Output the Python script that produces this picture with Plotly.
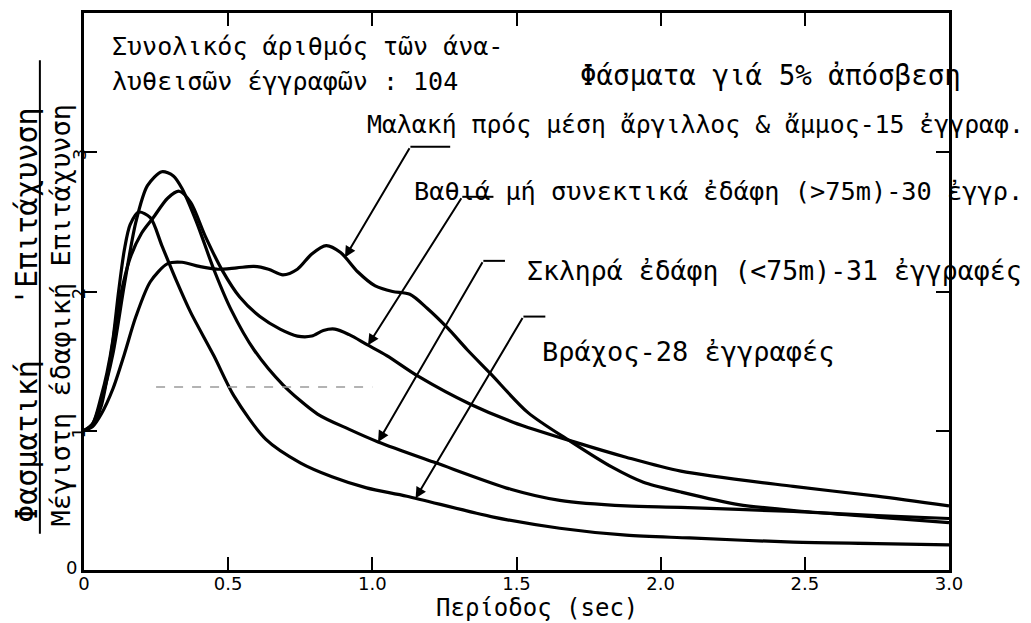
import numpy as np
import plotly.graph_objects as go

# Normalised response spectra (5% damping): spectral acceleration / peak ground acceleration
t_soft = [0, 0.03, 0.06, 0.10, 0.14, 0.18, 0.23, 0.29, 0.34, 0.40, 0.46, 0.53, 0.59, 0.64,
          0.69, 0.74, 0.79, 0.84, 0.89, 0.95, 1.01, 1.07, 1.13, 1.19, 1.26, 1.33, 1.41, 1.54,
          1.69, 1.83, 1.94, 2.07, 2.27, 2.50, 2.75, 3.00]
sa_soft = [1.00, 1.03, 1.12, 1.30, 1.55, 1.82, 2.07, 2.20, 2.21, 2.18, 2.16, 2.17, 2.18, 2.16,
           2.12, 2.16, 2.27, 2.33, 2.28, 2.14, 2.04, 2.00, 1.98, 1.88, 1.74, 1.58, 1.41, 1.13,
           0.92, 0.74, 0.63, 0.56, 0.47, 0.42, 0.38, 0.34]

t_deep = [0, 0.03, 0.06, 0.09, 0.12, 0.16, 0.20, 0.24, 0.29, 0.33, 0.37, 0.42, 0.48, 0.54,
          0.61, 0.68, 0.74, 0.79, 0.83, 0.87, 0.92, 0.98, 1.05, 1.16, 1.34, 1.49, 1.70, 1.88,
          2.07, 2.46, 2.75, 3.00]
sa_deep = [1.00, 1.04, 1.18, 1.50, 1.90, 2.24, 2.42, 2.53, 2.67, 2.72, 2.64, 2.40, 2.15, 1.96,
           1.82, 1.73, 1.68, 1.68, 1.72, 1.73, 1.69, 1.62, 1.54, 1.39, 1.19, 1.06, 0.92, 0.81,
           0.71, 0.60, 0.53, 0.46]

t_stiff = [0, 0.03, 0.06, 0.10, 0.14, 0.18, 0.22, 0.27, 0.31, 0.34, 0.39, 0.45, 0.51, 0.59,
           0.69, 0.81, 0.92, 1.02, 1.22, 1.48, 1.65, 1.88, 2.07, 2.46, 2.75, 3.00]
sa_stiff = [1.00, 1.05, 1.22, 1.55, 2.05, 2.50, 2.76, 2.86, 2.83, 2.74, 2.50, 2.16, 1.87, 1.58,
            1.33, 1.12, 1.01, 0.92, 0.77, 0.58, 0.50, 0.46, 0.45, 0.42, 0.39, 0.37]

t_rock = [0, 0.03, 0.06, 0.08, 0.10, 0.12, 0.14, 0.16, 0.19, 0.23, 0.27, 0.32, 0.37, 0.45,
          0.52, 0.63, 0.75, 0.86, 0.98, 1.12, 1.42, 1.65, 1.88, 2.10, 2.46, 2.75, 3.00]
sa_rock = [1.00, 1.05, 1.25, 1.42, 1.65, 2.00, 2.30, 2.48, 2.57, 2.53, 2.33, 2.08, 1.85, 1.54,
           1.25, 0.94, 0.77, 0.67, 0.59, 0.53, 0.38, 0.30, 0.25, 0.23, 0.20, 0.19, 0.18]

x_tickvals = [0, 0.5, 1.0, 1.5, 2.0, 2.5, 3.0]
x_ticktext = ["0", "0.5", "1.0", "1.5", "2.0", "2.5", "3.0"]
y_tickvals = [0, 1, 2, 3]
y_ticktext = ["0", "1", "2", "3"]

label_soft = "Μαλακή πρός μέση ἄργιλλος & ἄμμος-15 ἐγγραφ."
label_deep = "Βαθιά μή συνεκτικά ἐδάφη (>75m)-30 ἐγγρ."
label_stiff = "Σκληρά ἐδάφη (<75m)-31 ἐγγραφές"
label_rock = "Βράχος-28 ἐγγραφές"
note_line1 = "Συνολικός άριθμός τῶν άνα-"
note_line2 = "λυθεισῶν έγγραφῶν : 104"
heading = "Φάσματα γιά 5% ἀπόσβεση"
x_title = "Περίοδος (sec)"
y_title_num = "Φασματική   'Επιτάχυνση"
y_title_den = "Μέγιστη έδαφική Επιτάχυνση"

MONO = "DejaVu Sans Mono"
TICK_FONT = dict(family="DejaVu Sans", size=18, color="black")
LINE_W = 3.2

fig = go.Figure()
for t, sa in [(t_soft, sa_soft), (t_deep, sa_deep), (t_stiff, sa_stiff), (t_rock, sa_rock)]:
    fig.add_trace(go.Scatter(x=t, y=sa, mode="lines",
                             line=dict(color="black", width=LINE_W, shape="spline", smoothing=0.8),
                             showlegend=False, hoverinfo="skip"))

annotations = []
shapes = []

# Site-class labels with leader lines:
# (text, font size, text x, text y, corner, stub end x, tip period, series)
leaders = [
    (label_soft, 24.8, 0.975, 3.20, (1.132, 3.04), 1.27, 0.905, t_soft, sa_soft),
    (label_deep, 25.3, 1.138, 2.72, (1.312, 2.68), 1.42, 0.985, t_deep, sa_deep),
    (label_stiff, 26.5, 1.530, 2.15, (1.385, 2.22), 1.46, 1.020, t_stiff, sa_stiff),
    (label_rock, 27, 1.582, 1.57, (1.524, 1.82), 1.60, 1.150, t_rock, sa_rock),
]
for text, fs, tx, ty, (cx, cy), sx, tip_t, t, sa in leaders:
    tip_y = float(np.interp(tip_t, t, sa))
    annotations.append(dict(x=tx, y=ty, xref="x", yref="y", text=text, showarrow=False,
                            xanchor="left", yanchor="middle",
                            font=dict(family=MONO, size=fs, color="black")))
    annotations.append(dict(x=tip_t, y=tip_y, xref="x", yref="y", ax=cx, ay=cy,
                            axref="x", ayref="y", text="", showarrow=True,
                            arrowhead=2, arrowsize=1.1, arrowwidth=2, arrowcolor="black"))
    shapes.append(dict(type="line", xref="x", yref="y", x0=cx, y0=cy, x1=sx, y1=cy,
                       line=dict(color="black", width=2)))

for text, fs, tx, ty in [(note_line1, 25, 0.09, 3.76), (note_line2, 25, 0.09, 3.505),
                         (heading, 27.5, 1.713, 3.555)]:
    annotations.append(dict(x=tx, y=ty, xref="x", yref="y", text=text, showarrow=False,
                            xanchor="left", yanchor="middle",
                            font=dict(family=MONO, size=fs, color="black")))

# y tick labels: written sideways next to the axis, the zero upright at the corner
for val, txt in zip(y_tickvals, y_ticktext):
    if val == 0:
        annotations.append(dict(x=-0.015, y=val, xref="paper", yref="y", text=txt,
                                showarrow=False, xanchor="center", yanchor="middle", yshift=3,
                                font=TICK_FONT))
    else:
        annotations.append(dict(x=-0.006, y=val, xref="paper", yref="y", text=txt,
                                showarrow=False, textangle=-90, xanchor="center",
                                yanchor="middle", yshift=-2, font=TICK_FONT))

# Axis titles
annotations.append(dict(x=0.524, y=-0.069, xref="paper", yref="paper", text=x_title,
                        showarrow=False, xanchor="center", yanchor="middle",
                        font=dict(family=MONO, size=24, color="black")))
annotations.append(dict(x=-0.066, y=0.458, xref="paper", yref="paper", text=y_title_num,
                        showarrow=False, textangle=-90, xanchor="center", yanchor="middle",
                        font=dict(family=MONO, size=30, color="black")))
annotations.append(dict(x=-0.027, y=0.458, xref="paper", yref="paper", text=y_title_den,
                        showarrow=False, textangle=-90, xanchor="center", yanchor="middle",
                        font=dict(family=MONO, size=27, color="black")))
# fraction bar between numerator and denominator
shapes.append(dict(type="line", xref="paper", yref="paper",
                   x0=-0.051, y0=0.065, x1=-0.051, y1=0.915,
                   line=dict(color="black", width=2)))

# faint dashed mark across the middle of the sheet
shapes.append(dict(type="line", xref="x", yref="y", x0=0.25, y0=1.315, x1=1.0, y1=1.315,
                   line=dict(color="#9a9a9a", width=1.5, dash="dash")))

fig.update_layout(
    width=1031, height=623,
    margin=dict(l=84, r=82, t=13, b=53),
    paper_bgcolor="white", plot_bgcolor="white",
    annotations=annotations, shapes=shapes,
    showlegend=False,
)
fig.update_xaxes(range=[0, 3.0], tickvals=x_tickvals, ticktext=x_ticktext,
                 ticks="inside", ticklen=13, tickwidth=2, tickcolor="black",
                 ticklabelstandoff=-4,
                 showline=True, linewidth=2.5, linecolor="black", mirror="allticks",
                 showgrid=False, zeroline=False, automargin=False, tickfont=TICK_FONT)
fig.update_yaxes(range=[0, 4.0], tickvals=y_tickvals, showticklabels=False,
                 ticks="inside", ticklen=13, tickwidth=2, tickcolor="black",
                 showline=True, linewidth=2.5, linecolor="black", mirror="allticks",
                 showgrid=False, zeroline=False, automargin=False)

fig.write_html("out.html")
